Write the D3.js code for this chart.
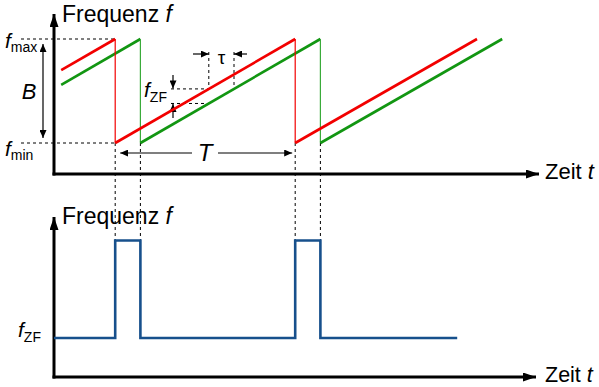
<!DOCTYPE html>
<html>
<head>
<meta charset="utf-8">
<script src="https://cdn.jsdelivr.net/npm/d3@7"></script>
<style>
  html, body { margin: 0; padding: 0; background: #fff; }
  svg { display: block; }
  text { font-family: "Liberation Sans", Arial, sans-serif; fill: #000; }
</style>
</head>
<body>
<svg id="chart" width="599" height="387"></svg>
<script>
// FMCW radar: transmitted (red) and received (green) sawtooth chirps,
// and the resulting beat (intermediate) frequency below.

// time in units where one chirp period T = 100
const redT   = [4, 34, 34, 134, 134, 235];
const redF   = [0.70, 1.0, 0.0, 1.0, 0.0, 1.0];   // normalised: 0 = f_min, 1 = f_max
const greenT = [4, 48, 48, 148, 148, 249];
const greenF = [0.56, 1.0, 0.0, 1.0, 0.0, 1.0];

// beat frequency: 1 = f_ZF level, 3.5 = during chirp overlap gap
const beatT = [0, 34, 34, 48, 48, 134, 134, 148, 148, 224];
const beatF = [1, 1, 3.5, 3.5, 1, 1, 3.5, 3.5, 1, 1];

const markerT = [34, 48, 134, 148];   // flyback instants
const tauRefT = 86;                   // time where tau / f_ZF are annotated
const tauDelay = 14;

const svg = d3.select("#chart");
const RED = "#f20000", GREEN = "#129612", BLUE = "#17508c";

const x = d3.scaleLinear().domain([0, 100]).range([54, 234]);
const yTop = d3.scaleLinear().domain([0, 1]).range([143, 39]);
const yBot = d3.scaleLinear().domain([0, 4]).range([377, 221]);

const defs = svg.append("defs");
function marker(id, w, h) {
  defs.append("marker").attr("id", id)
    .attr("viewBox", `0 0 ${w} ${h}`).attr("refX", w).attr("refY", h / 2)
    .attr("markerWidth", w).attr("markerHeight", h)
    .attr("markerUnits", "userSpaceOnUse").attr("orient", "auto-start-reverse")
    .append("path").attr("d", `M0,0L${w},${h / 2}L0,${h}Z`).attr("fill", "#000");
}
marker("axhead", 13, 9);
marker("dimhead", 8, 7);

// ---- axes ----
function axes(y0, yTip, xTip) {
  svg.append("line").attr("x1", 54).attr("y1", y0 + 1.5).attr("x2", 54).attr("y2", yTip)
    .attr("stroke", "#000").attr("stroke-width", 3).attr("marker-end", "url(#axhead)");
  svg.append("line").attr("x1", 52.5).attr("y1", y0).attr("x2", xTip).attr("y2", y0)
    .attr("stroke", "#000").attr("stroke-width", 3).attr("marker-end", "url(#axhead)");
}
axes(174, 14, 539);
axes(377, 217, 536);

function label(xp, yp, parts, anchor) {
  const t = svg.append("text").attr("x", xp).attr("y", yp).attr("text-anchor", anchor || "start");
  parts.forEach(p => {
    const s = t.append("tspan").text(p.t).attr("font-size", p.s || 21);
    if (p.i) s.attr("font-style", "italic");
    if (p.dy) s.attr("dy", p.dy);
  });
  return t;
}
label(62, 22, [{t: "Frequenz ", s: 23}, {t: "f", i: true, s: 23}]);
label(62, 224, [{t: "Frequenz ", s: 23}, {t: "f", i: true, s: 23}]);
label(545, 179, [{t: "Zeit ", s: 22}, {t: "t", i: true, s: 22}]);
label(545, 382, [{t: "Zeit ", s: 21.5}, {t: "t", i: true, s: 21.5}]);

label(5, 48, [{t: "f", i: true}, {t: "max", s: 14, dy: 4}]);
label(5, 156, [{t: "f", i: true}, {t: "min", s: 14, dy: 4}]);
label(29, 99, [{t: "B", i: true, s: 22}], "middle");
label(144, 97, [{t: "f", i: true}, {t: "ZF", s: 14, dy: 5}]);
label(18, 337, [{t: "f", i: true}, {t: "ZF", s: 14, dy: 5}]);

// ---- dashed guides ----
const dash = (x1, y1, x2, y2) => svg.append("line")
  .attr("x1", x1).attr("y1", y1).attr("x2", x2).attr("y2", y2)
  .attr("stroke", "#000").attr("stroke-width", 1).attr("stroke-dasharray", "3,3");

dash(21, yTop(1), x(34), yTop(1));
dash(21, yTop(0), x(34), yTop(0));
markerT.forEach(t => dash(x(t), yTop(0), x(t), yBot(3.5)));

const redAt = t => (t - 34) / 100;          // red ramp value inside the second period
const greenAt = t => (t - 48) / 100;
dash(x(tauRefT), 52, x(tauRefT), yTop(redAt(tauRefT)));
dash(x(tauRefT + tauDelay), 52, x(tauRefT + tauDelay), yTop(greenAt(tauRefT + tauDelay)));
dash(171, yTop(redAt(tauRefT)), x(tauRefT), yTop(redAt(tauRefT)));
dash(171, yTop(greenAt(tauRefT)), x(tauRefT), yTop(greenAt(tauRefT)));

// ---- dimension arrows ----
const arrow = (x1, y1, x2, y2, both) => {
  const l = svg.append("line").attr("x1", x1).attr("y1", y1).attr("x2", x2).attr("y2", y2)
    .attr("stroke", "#000").attr("stroke-width", 1.2).attr("marker-end", "url(#dimhead)");
  if (both) l.attr("marker-start", "url(#dimhead)");
};
arrow(43, 44, 43, 138, true);                           // B
arrow(192, yTop(0) + 10, x(34) + 5, yTop(0) + 10);       // T left half
arrow(218, yTop(0) + 10, x(134) - 3, yTop(0) + 10);      // T right half
label((x(34) + x(134)) / 2, 161, [{t: "T", i: true, s: 24}], "middle");
arrow(193, 54, x(tauRefT), 54);                          // tau
arrow(247, 54, x(tauRefT + tauDelay), 54);
label((x(tauRefT) + x(tauRefT + tauDelay)) / 2, 64, [{t: "τ", s: 19}], "middle");
arrow(173, 75, 173, yTop(redAt(tauRefT)) - 0.5);          // f_ZF
arrow(173, 118, 173, yTop(greenAt(tauRefT)) + 0.5);

// ---- chirps ----
function chirp(ts, fs, color, thinColor) {
  for (let i = 0; i < ts.length - 1; i++) {
    const flyback = ts[i] === ts[i + 1];
    svg.append("line")
      .attr("x1", x(ts[i])).attr("y1", yTop(fs[i]))
      .attr("x2", x(ts[i + 1])).attr("y2", yTop(fs[i + 1]))
      .attr("stroke", flyback ? thinColor : color)
      .attr("stroke-width", flyback ? 1.2 : 2.6);
  }
}
chirp(greenT, greenF, GREEN, "#3aab3a");
chirp(redT, redF, RED, RED);

// ---- beat frequency ----
svg.append("path")
  .datum(d3.zip(beatT, beatF))
  .attr("d", d3.line().x(d => x(d[0])).y(d => yBot(d[1])))
  .attr("fill", "none").attr("stroke", BLUE).attr("stroke-width", 2.6)
  .attr("stroke-linejoin", "miter");
</script>
</body>
</html>
